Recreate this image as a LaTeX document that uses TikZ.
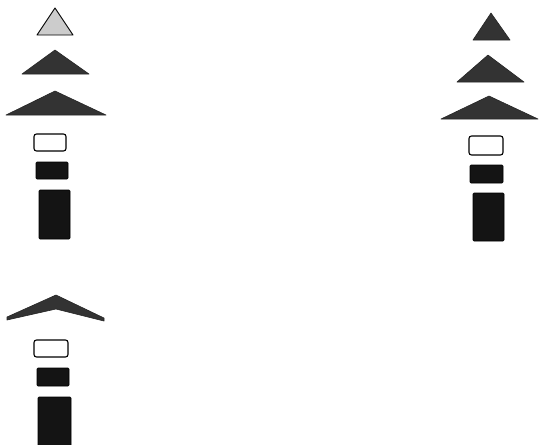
\documentclass[tikz,border=0pt]{standalone}
\usepackage{xcolor}
\usepackage{tikz}

\begin{document}
\begin{tikzpicture}[
            x=1pt, y=-1pt,
            lighttri/.style={
                    draw=black,
                    fill=black!20,
                    line width=0.9pt,
                    line join=round
                },
            darktri/.style={
                    draw=black!85,
                    fill=black!80,
                    line width=0.6pt,
                    line join=round
                },
            openbox/.style={
                    draw=black,
                    fill=white,
                    line width=1.1pt,
                    rounded corners=2.5pt
                },
            solidbox/.style={
                    draw=black,
                    fill=black!92,
                    line width=0.6pt,
                    rounded corners=1pt
                }
        ]

        \useasboundingbox (0,0) rectangle (539,445);


        % left column
        \draw[lighttri] (37,35) -- (55,8) -- (73,35) -- cycle;
        \draw[darktri] (22,74) -- (55,50) -- (89,74) -- cycle;
        \draw[darktri] (6,115) -- (55,91) -- (106,115) -- cycle;

        \draw[openbox] (34,134) rectangle (66,151);
        \draw[solidbox] (36,162) rectangle (68,179);
        \draw[solidbox] (39,190) rectangle (70,239);


        % right column
        \draw[darktri] (473,40) -- (491,13) -- (510,40) -- cycle;
        \draw[darktri] (457,82) -- (488,55) -- (524,82) -- cycle;
        \draw[darktri] (441,119) -- (489,96) -- (538,119) -- cycle;

        \draw[openbox] (469,136) rectangle (503,155);
        \draw[solidbox] (470,165) rectangle (503,183);
        \draw[solidbox] (473,193) rectangle (504,241);


        % bottom column
        \draw[darktri] (7,320) -- (7,317) -- (56,295) -- (104,318) -- (104,321)
            -- (56,309) -- cycle;

        \draw[openbox] (34,340) rectangle (68,357);
        \draw[solidbox] (37,368) rectangle (69,386);
        \draw[solidbox] (38,397) rectangle (71,446);


    \end{tikzpicture}
\end{document}
